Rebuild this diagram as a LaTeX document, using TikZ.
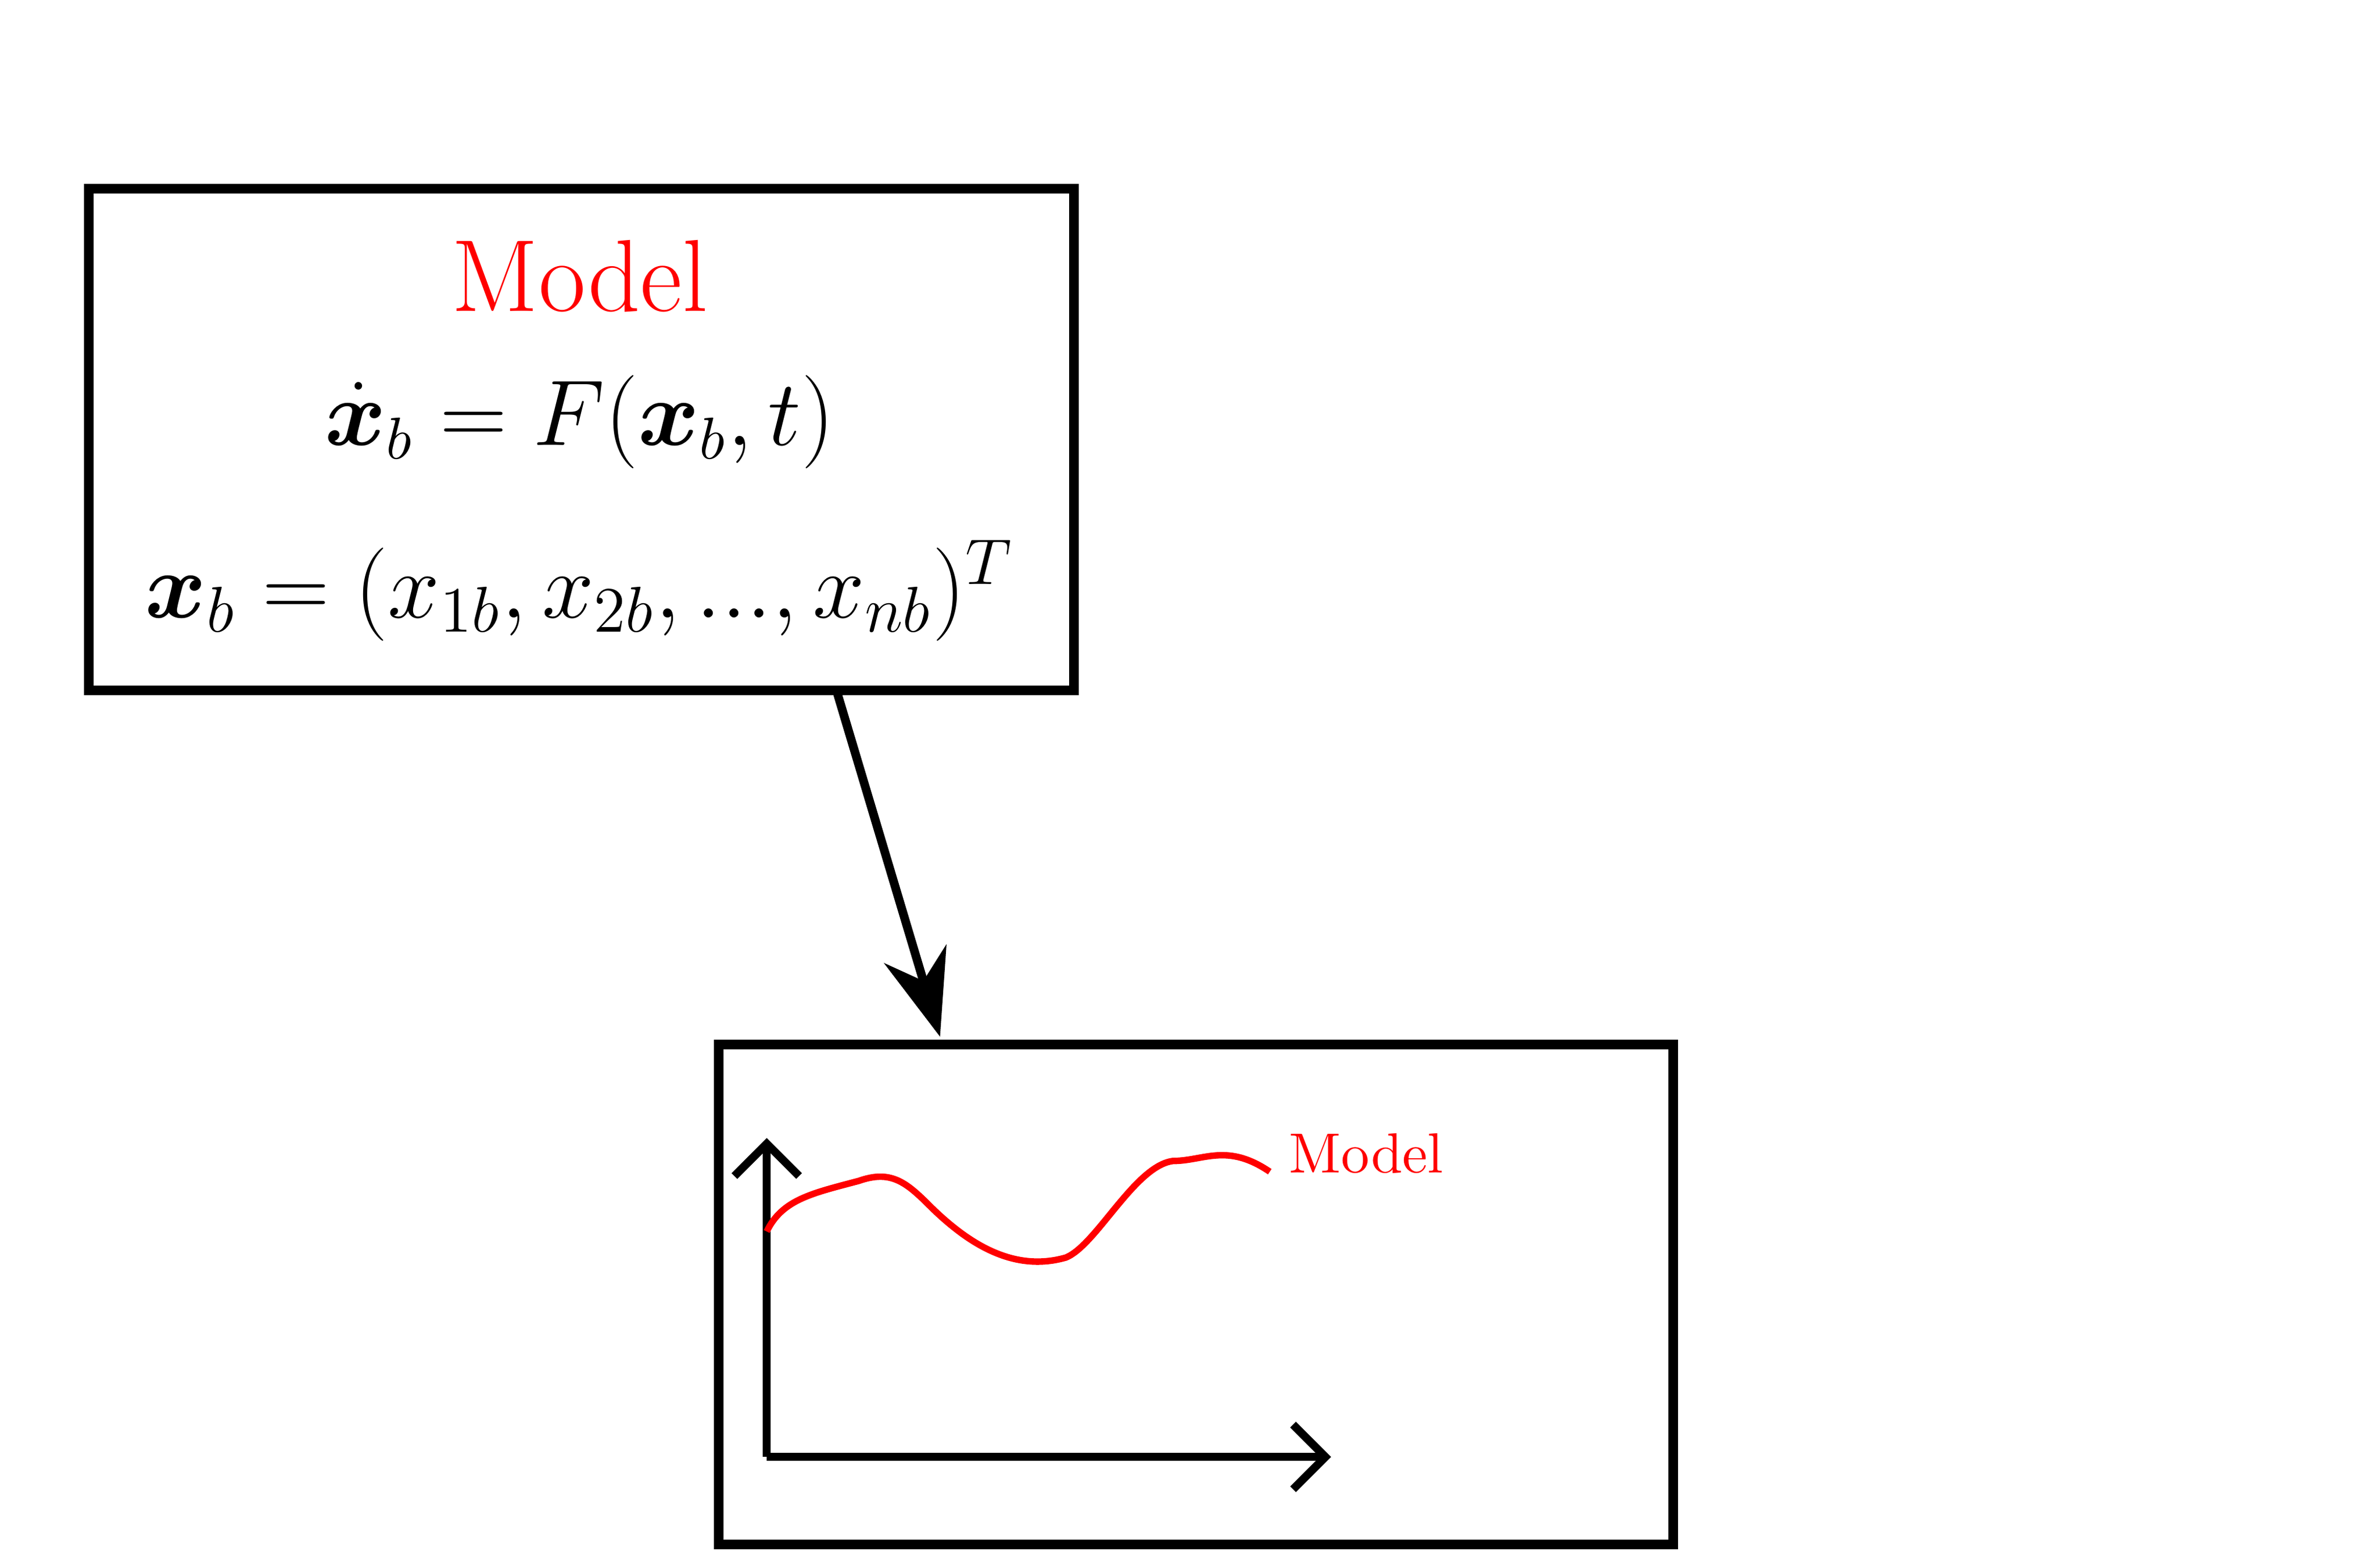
\documentclass[tikz,border=0pt]{standalone}
\usepackage{amsmath,bm}
\usetikzlibrary{arrows.meta}
\begin{document}
\begin{tikzpicture}[x=0.01cm,y=-0.01cm,
  box/.style={draw,line width=1.8pt},
  conn/.style={line width=1.6pt,-{Stealth[length=16pt,width=12pt]}},
  axis/.style={line width=1.5pt,-{Straight Barb[length=6pt,width=12pt,line width=1.5pt]}}]
\useasboundingbox (0,0) rectangle (1552,1011);
\node[box,inner sep=0pt,minimum width=6.42cm,minimum height=3.27cm] (top) at (379,286.5) {};
\node[box,inner sep=0pt,minimum width=6.22cm,minimum height=3.26cm] (bot) at (780,844) {};
\node[text=red,font=\fontsize{19}{22}\selectfont] (t1) at (378,180) {Model};
\node[font=\fontsize{16}{20}\selectfont] (t2) at (378,275) {$\dot{\bm{x}}_b = F(\bm{x}_b,t)$};
\node[font=\fontsize{17}{20}\selectfont] (t3) at (378,385) {$\bm{x}_b = (x_{1b},x_{2b},...,x_{nb})^T$};
\coordinate (a1) at (546,452);
\coordinate (a2) at (613,676);
\draw[conn] (a1) -- (a2);
\coordinate (o) at (500,950);
\coordinate (ytop) at (500,742);
\coordinate (xend) at (868,950);
\draw[axis] (o) -- (ytop);
\draw[axis] (o) -- (xend);
\draw[red,line width=1.2pt] (500,803) .. controls (510,782) and (530,778) .. (560,770)
  .. controls (580,763) and (590,770) .. (605,785)
  .. controls (630,810) and (660,830) .. (695,820)
  .. controls (715,812) and (740,760) .. (765,757)
  .. controls (785,757) and (800,745) .. (828,764);
\node[text=red,font=\fontsize{10.5}{12}\selectfont] (lab) at (891,752) {Model};
\end{tikzpicture}
\end{document}
